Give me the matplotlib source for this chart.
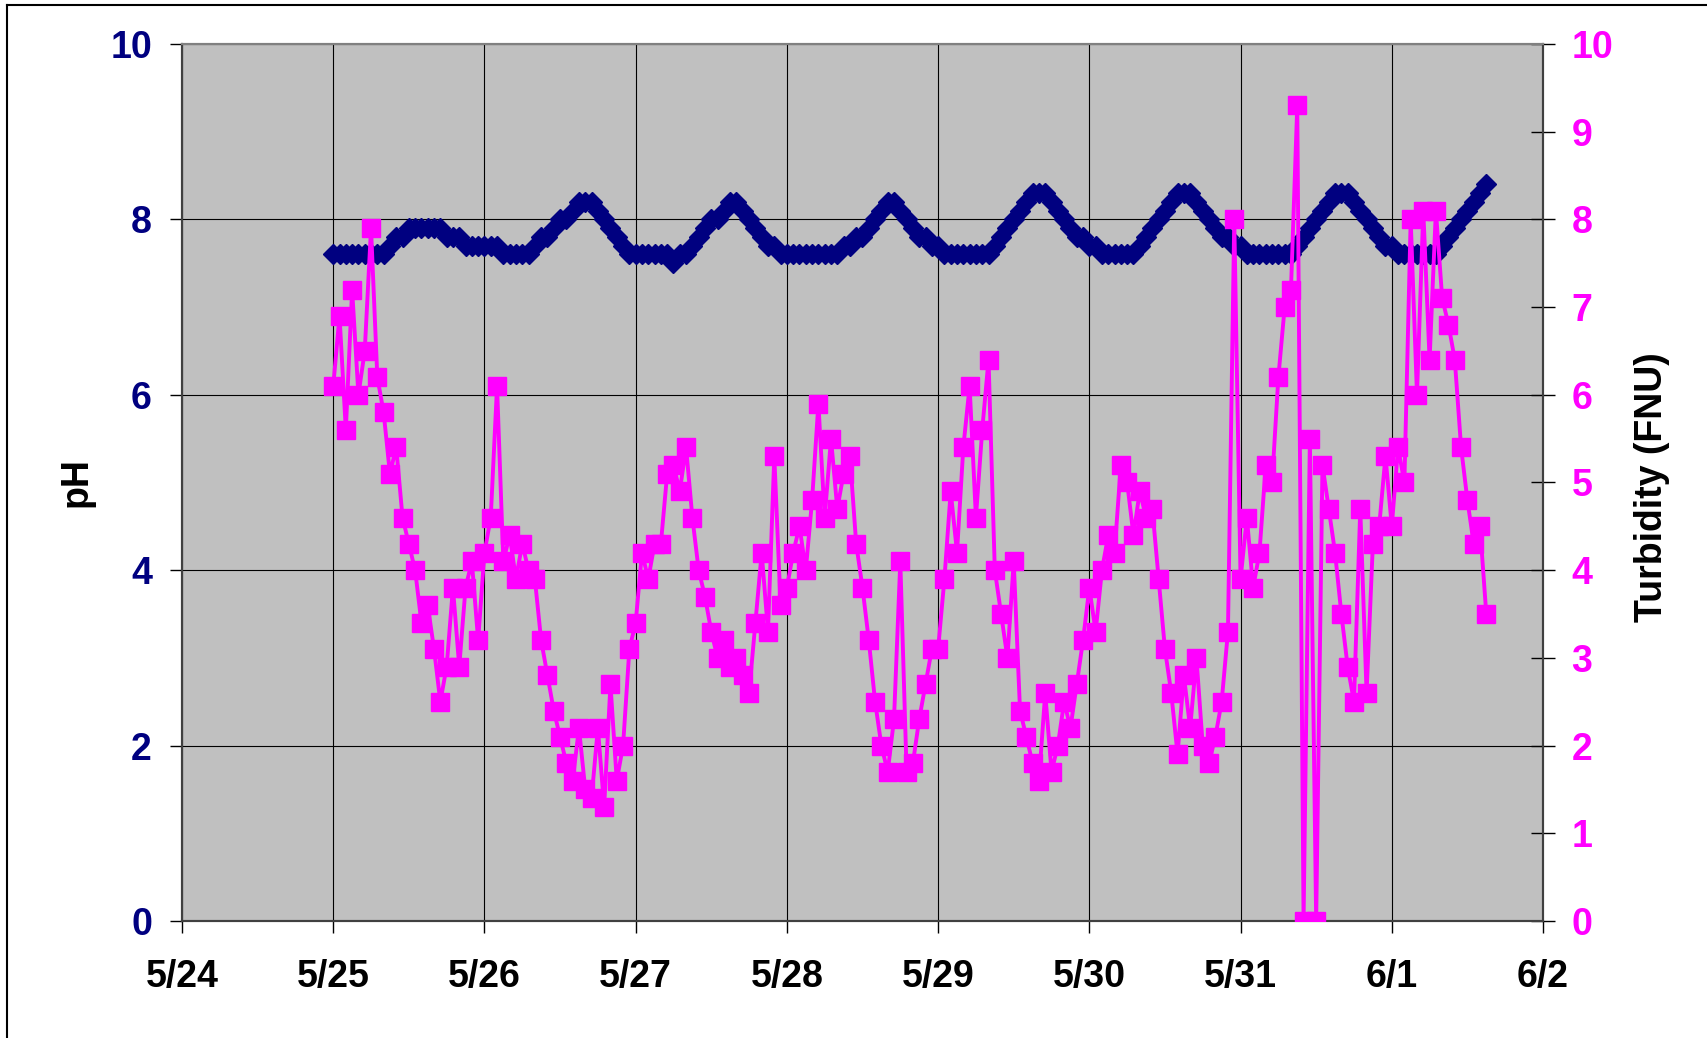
import matplotlib as mpl
import matplotlib.pyplot as plt
import matplotlib.dates as mdates
from matplotlib.lines import Line2D
import numpy as np
import pandas as pd

mpl.rcParams['font.family'] = ['Liberation Sans', 'DejaVu Sans']
mpl.rcParams['font.weight'] = 'bold'

navy = '#000080'
magenta = '#FF00FF'

# hourly readings, one row per day (5/25 .. 6/1 15:00)
ph = [
    7.6, 7.6, 7.6, 7.6, 7.6, 7.6, 7.6, 7.6, 7.6, 7.7, 7.8, 7.8, 7.9, 7.9, 7.9, 7.9, 7.9, 7.9, 7.8, 7.8, 7.8, 7.7, 7.7, 7.7,
    7.7, 7.7, 7.7, 7.6, 7.6, 7.6, 7.6, 7.6, 7.7, 7.8, 7.8, 7.9, 8.0, 8.0, 8.1, 8.2, 8.2, 8.2, 8.1, 8.0, 7.9, 7.8, 7.7, 7.6,
    7.6, 7.6, 7.6, 7.6, 7.6, 7.6, 7.5, 7.6, 7.6, 7.7, 7.8, 7.9, 8.0, 8.0, 8.1, 8.2, 8.2, 8.1, 8.0, 7.9, 7.8, 7.7, 7.7, 7.6,
    7.6, 7.6, 7.6, 7.6, 7.6, 7.6, 7.6, 7.6, 7.6, 7.7, 7.7, 7.8, 7.8, 7.9, 8.0, 8.1, 8.2, 8.2, 8.1, 8.0, 7.9, 7.8, 7.8, 7.7,
    7.7, 7.6, 7.6, 7.6, 7.6, 7.6, 7.6, 7.6, 7.6, 7.7, 7.8, 7.9, 8.0, 8.1, 8.2, 8.3, 8.3, 8.3, 8.2, 8.1, 8.0, 7.9, 7.8, 7.8,
    7.7, 7.7, 7.6, 7.6, 7.6, 7.6, 7.6, 7.6, 7.7, 7.8, 7.9, 8.0, 8.1, 8.2, 8.3, 8.3, 8.3, 8.2, 8.1, 8.0, 7.9, 7.8, 7.8, 7.7,
    7.7, 7.6, 7.6, 7.6, 7.6, 7.6, 7.6, 7.6, 7.6, 7.7, 7.8, 7.9, 8.0, 8.1, 8.2, 8.3, 8.3, 8.3, 8.2, 8.1, 8.0, 7.9, 7.8, 7.7,
    7.7, 7.6, 7.6, 7.6, 7.6, 7.6, 7.6, 7.6, 7.7, 7.8, 7.9, 8.0, 8.1, 8.2, 8.3, 8.4,
]

turbidity = [
    6.1, 6.9, 5.6, 7.2, 6.0, 6.5, 7.9, 6.2, 5.8, 5.1, 5.4, 4.6, 4.3, 4.0, 3.4, 3.6, 3.1, 2.5, 2.9, 3.8, 2.9, 3.8, 4.1, 3.2,
    4.2, 4.6, 6.1, 4.1, 4.4, 3.9, 4.3, 4.0, 3.9, 3.2, 2.8, 2.4, 2.1, 1.8, 1.6, 2.2, 1.5, 1.4, 2.2, 1.3, 2.7, 1.6, 2.0, 3.1,
    3.4, 4.2, 3.9, 4.3, 4.3, 5.1, 5.2, 4.9, 5.4, 4.6, 4.0, 3.7, 3.3, 3.0, 3.2, 2.9, 3.0, 2.8, 2.6, 3.4, 4.2, 3.3, 5.3, 3.6,
    3.8, 4.2, 4.5, 4.0, 4.8, 5.9, 4.6, 5.5, 4.7, 5.1, 5.3, 4.3, 3.8, 3.2, 2.5, 2.0, 1.7, 2.3, 4.1, 1.7, 1.8, 2.3, 2.7, 3.1,
    3.1, 3.9, 4.9, 4.2, 5.4, 6.1, 4.6, 5.6, 6.4, 4.0, 3.5, 3.0, 4.1, 2.4, 2.1, 1.8, 1.6, 2.6, 1.7, 2.0, 2.5, 2.2, 2.7, 3.2,
    3.8, 3.3, 4.0, 4.4, 4.2, 5.2, 5.0, 4.4, 4.9, 4.6, 4.7, 3.9, 3.1, 2.6, 1.9, 2.8, 2.2, 3.0, 2.0, 1.8, 2.1, 2.5, 3.3, 8.0,
    3.9, 4.6, 3.8, 4.2, 5.2, 5.0, 6.2, 7.0, 7.2, 9.3, 0.0, 5.5, 0.0, 5.2, 4.7, 4.2, 3.5, 2.9, 2.5, 4.7, 2.6, 4.3, 4.5, 5.3,
    4.5, 5.4, 5.0, 8.0, 6.0, 8.1, 6.4, 8.1, 7.1, 6.8, 6.4, 5.4, 4.8, 4.3, 4.5, 3.5,
]

times = pd.date_range('2007-05-25 00:00', periods=len(ph), freq='h')
day_ticks = pd.date_range('2007-05-24', '2007-06-02', freq='D')
day_labels = ['5/24', '5/25', '5/26', '5/27', '5/28', '5/29', '5/30', '5/31', '6/1', '6/2']

W, H = 1707, 1038
fig = plt.figure(figsize=(W / 100, H / 100), dpi=100)
ax = fig.add_axes([182 / W, 1 - 921 / H, (1543 - 182) / W, (921 - 44) / H])
ax.set_facecolor('#C0C0C0')

# thick line under the diamonds so the dense record reads as one band
ax.plot(times, ph, color=navy, lw=7, solid_capstyle='butt', zorder=3)
ax.plot(times, ph, color=navy, lw=0, marker='D', ms=10, mec=navy, mfc=navy, zorder=3)

ax.set_xlim(day_ticks[0], day_ticks[-1])
ax.set_ylim(0, 10)
ax.set_xticks(day_ticks)
ax.set_xticklabels(day_labels)
ax.set_yticks(np.arange(0, 11, 2))
ax.grid(True, color='black', lw=0.8)
ax.set_axisbelow(True)
ax.tick_params(axis='y', direction='out', length=8.6, width=1, labelsize=27,
               labelcolor=navy, pad=13)
ax.tick_params(axis='x', direction='out', length=8.6, width=1, labelsize=27,
               labelcolor='black', pad=19)
ax.set_ylabel('pH', fontsize=27, fontweight='bold')
ax.yaxis.set_label_coords(-0.064, 0.5)

ax2 = ax.twinx()
ax2.plot(times, turbidity, color=magenta, lw=2.8, marker='s', ms=13.5, mec=magenta,
         mfc=magenta, zorder=4)
ax2.set_ylim(0, 10)
ax2.set_yticks(np.arange(0, 11, 1))
ax2.tick_params(axis='y', direction='inout', length=17, width=1, labelsize=27,
                labelcolor=magenta, pad=12)
ax2.set_ylabel('Turbidity (FNU)', fontsize=27, fontweight='bold')
ax2.yaxis.set_label_coords(1.067, 0.495)

for a in (ax, ax2):
    for side in ('left', 'right', 'bottom'):
        a.spines[side].set_color('#404040')
        a.spines[side].set_linewidth(1.5)
    a.spines['top'].set_color('#808080')
    a.spines['top'].set_linewidth(1.5)

# outer chart frame (only top and left edges fall inside the image)
fig.add_artist(Line2D([7 / W, 1], [1 - 5 / H, 1 - 5 / H], transform=fig.transFigure,
                      color='black', lw=1.5))
fig.add_artist(Line2D([7 / W, 7 / W], [0, 1 - 5 / H], transform=fig.transFigure,
                      color='black', lw=1.5))

fig.savefig('out.png', dpi=100)
